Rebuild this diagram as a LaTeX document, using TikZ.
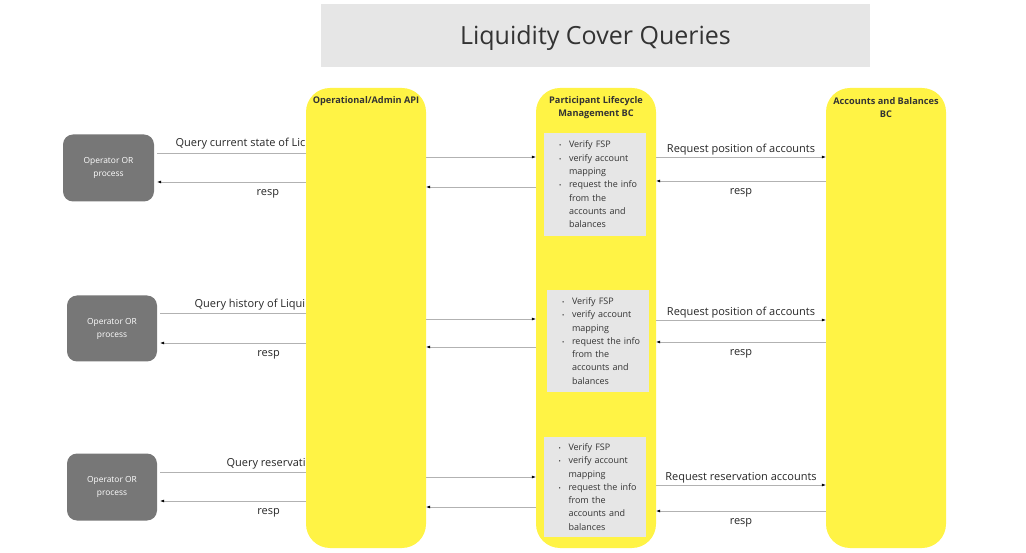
\documentclass[tikz,border=0pt]{standalone}
\usepackage{fontspec}
\setmainfont{Open Sans}
\usetikzlibrary{arrows.meta}
\definecolor{laneyellow}{RGB}{255,243,69}
\definecolor{opgray}{RGB}{119,119,119}
\definecolor{boxgray}{RGB}{230,230,230}
\definecolor{inkgray}{RGB}{51,51,51}
\newcommand{\bul}{\hspace*{9pt}\makebox[10pt][l]{\fontsize{6pt}{6pt}\selectfont\textbullet}}
\newcommand{\ind}{\hspace*{19pt}}
\newcommand{\checksteps}{\bul Verify FSP\\ \bul verify account\\ \ind mapping\\ \bul request the info\\ \ind from the\\ \ind accounts and\\ \ind balances}
\tikzset{
  lane/.style={fill=laneyellow, rounded corners=24pt, minimum width=120pt, minimum height=460pt, inner sep=0pt},
  lanelabel/.style={font=\fontsize{9.2pt}{13pt}\selectfont\bfseries, text=inkgray, align=center},
  operator/.style={fill=opgray, rounded corners=10pt, text=white, font=\fontsize{8.4pt}{13pt}\selectfont, align=center, inner sep=0pt},
  stepsbox/.style={fill=boxgray, font=\fontsize{9pt}{13.3pt}\selectfont, text=inkgray, align=left, text width=90pt, inner xsep=6pt, inner ysep=0pt},
  msg/.style={draw=gray!60, line width=0.6pt, -{Latex[color=black,length=4pt,width=3pt]}},
  msglabel/.style={font=\fontsize{11pt}{13pt}\selectfont, text=black!85},
  upper/.style={msglabel, above, yshift=-2pt},
  lower/.style={msglabel, below, yshift=-4pt}
}
\begin{document}
\begin{tikzpicture}[x=1pt, y=-1pt]
	\useasboundingbox (0,0) rectangle (1026,553);
	\node[fill=boxgray, minimum width=549pt, minimum height=63pt] (titlebox) at (595.5,35.5) {};
	\node[font=\fontsize{25pt}{30pt}\selectfont, text=inkgray] (title) at (595.5,38) {Liquidity Cover Queries};
	\node[msglabel, anchor=west] (q1) at (172,144) {Query current state of Lic};
	\node[msglabel, anchor=west] (q2) at (191,305) {Query history of Liqui};
	\node[msglabel, anchor=west] (q3) at (223,464) {Query reservati};
	\node[lane] (api) at (366,318) {};
	\node[lane] (plm) at (596,318) {};
	\node[lane] (ab) at (886,318) {};
	\node[lanelabel] (apititle) at (366,101) {Operational/Admin API};
	\node[lanelabel] (plmtitle) at (596,107.5) {Participant Lifecycle\\Management BC};
	\node[lanelabel] (abtitle) at (886,107.5) {Accounts and Balances\\BC};
	\node[operator, minimum width=91pt, minimum height=67pt] (op1) at (108.5,168) {Operator OR\\process};
	\node[operator, minimum width=90pt, minimum height=66pt] (op2) at (112,328.5) {Operator OR\\process};
	\node[operator, minimum width=90pt, minimum height=67pt] (op3) at (112,487) {Operator OR\\process};
	\node[stepsbox, minimum height=103pt] (v1) at (595,184.5) {\checksteps};
	\node[stepsbox, minimum height=102pt] (v2) at (598,341) {\checksteps};
	\node[stepsbox, minimum height=100pt] (v3) at (594.5,487) {\checksteps};

	\draw[draw=gray!60, line width=0.6pt, shorten <=3pt] (op1.east |- 0,153) -- (api.west |- 0,153);
	\draw[msg] (api.east |- 0,157) -- (plm.west |- 0,157);
	\draw[msg] (plm.east |- 0,157) -- node[upper] (req1) {Request position of accounts} (ab.west |- 0,157);
	\draw[msg] (ab.west |- 0,181) -- node[lower] (resp1b) {resp} (plm.east |- 0,181);
	\draw[msg] (plm.west |- 0,187) -- (api.east |- 0,187);
	\draw[msg, shorten >=3pt] (api.west |- 0,182) -- node[lower, pos=0.25] (resp1a) {resp} (op1.east |- 0,182);

	\draw[draw=gray!60, line width=0.6pt, shorten <=3pt] (op2.east |- 0,313) -- (api.west |- 0,313);
	\draw[msg] (api.east |- 0,319) -- (plm.west |- 0,319);
	\draw[msg] (plm.east |- 0,320) -- node[upper] (req2) {Request position of accounts} (ab.west |- 0,320);
	\draw[msg] (ab.west |- 0,342) -- node[lower] (resp2b) {resp} (plm.east |- 0,342);
	\draw[msg] (plm.west |- 0,347) -- (api.east |- 0,347);
	\draw[msg, shorten >=3pt] (api.west |- 0,343) -- node[lower, pos=0.25] (resp2a) {resp} (op2.east |- 0,343);

	\draw[draw=gray!60, line width=0.6pt, shorten <=3pt] (op3.east |- 0,472) -- (api.west |- 0,472);
	\draw[msg] (api.east |- 0,477) -- (plm.west |- 0,477);
	\draw[msg] (plm.east |- 0,485) -- node[upper] (req3) {Request reservation accounts} (ab.west |- 0,485);
	\draw[msg] (ab.west |- 0,511) -- node[lower] (resp3b) {resp} (plm.east |- 0,511);
	\draw[msg] (plm.west |- 0,507) -- (api.east |- 0,507);
	\draw[msg, shorten >=3pt] (api.west |- 0,501) -- node[lower, pos=0.25] (resp3a) {resp} (op3.east |- 0,501);
\end{tikzpicture}
\end{document}
